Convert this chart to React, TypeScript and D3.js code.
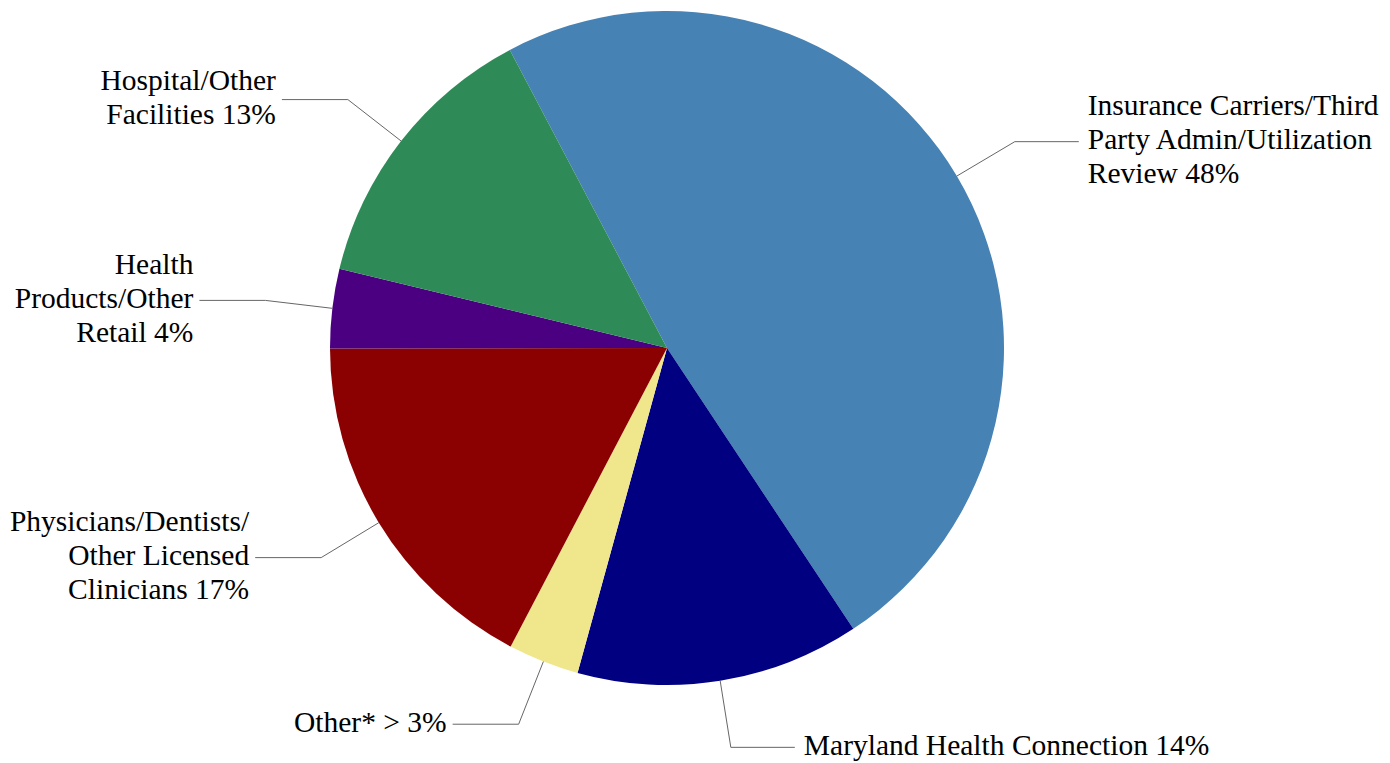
import React from "react";
import * as d3 from "d3";

const categories = [
  "Insurance Carriers/Third Party Admin/Utilization Review",
  "Maryland Health Connection",
  "Other*",
  "Physicians/Dentists/Other Licensed Clinicians",
  "Health Products/Other Retail",
  "Hospital/Other Facilities",
];
const values = [48.4, 13.6, 3.4, 17.3, 3.8, 13.5];
const labelLines = [
  ["Insurance Carriers/Third", "Party Admin/Utilization", "Review 48%"],
  ["Maryland Health Connection 14%"],
  ["Other* > 3%"],
  ["Physicians/Dentists/", "Other Licensed", "Clinicians 17%"],
  ["Health", "Products/Other", "Retail 4%"],
  ["Hospital/Other", "Facilities 13%"],
];
const colors = ["#4682B4", "#000080", "#F0E68C", "#8B0000", "#4B0082", "#2E8B57"];

const W = 1390;
const H = 763;
const cx = 667;
const cy = 348;
const R = 337;
const startDeg = -27.8;
const fontSize = 29.5;
const lineH = 33.8;

export default function App() {
  const data = categories.map((c, i) => ({ name: c, value: values[i], i }));
  const start = (startDeg * Math.PI) / 180;
  const pie = d3
    .pie<any>()
    .sort(null)
    .value((d: any) => d.value)
    .startAngle(start)
    .endAngle(start + 2 * Math.PI);
  const arcs = pie(data);
  const arc = d3.arc<any>().innerRadius(0).outerRadius(R);

  return (
    <svg
      width={W}
      height={H}
      style={{ position: "absolute", left: 0, top: 0, background: "#fff" }}
    >
      <g transform={`translate(${cx},${cy})`}>
        {arcs.map((a, k) => (
          <path key={k} d={arc(a) as string} fill={colors[a.data.i]} />
        ))}
        {arcs.map((a, k) => {
          const mid = (a.startAngle + a.endAngle) / 2;
          const sx = Math.sin(mid);
          const sy = -Math.cos(mid);
          const p0 = [R * sx, R * sy];
          const p1 = [R * 1.2 * sx, R * 1.2 * sy];
          const right = sx >= 0;
          const p2 = [p1[0] + (right ? 64 : -66), p1[1]];
          const tx = p2[0] + (right ? 9 : -6);
          const lines = labelLines[a.data.i];
          const firstY = p1[1] - ((lines.length - 1) / 2) * lineH;
          return (
            <g key={"l" + k}>
              <polyline
                points={[p0, p1, p2].map((p) => p.join(",")).join(" ")}
                fill="none"
                stroke="#666"
                strokeWidth={1}
              />
              <text
                x={tx}
                textAnchor={right ? "start" : "end"}
                style={{ fontFamily: "Liberation Serif, 'Times New Roman', serif", fontSize: fontSize + "px" }}
                fill="#000"
              >
                {lines.map((ln, j) => (
                  <tspan key={j} x={tx} y={firstY + j * lineH} dy="7.5">
                    {ln}
                  </tspan>
                ))}
              </text>
            </g>
          );
        })}
      </g>
    </svg>
  );
}
